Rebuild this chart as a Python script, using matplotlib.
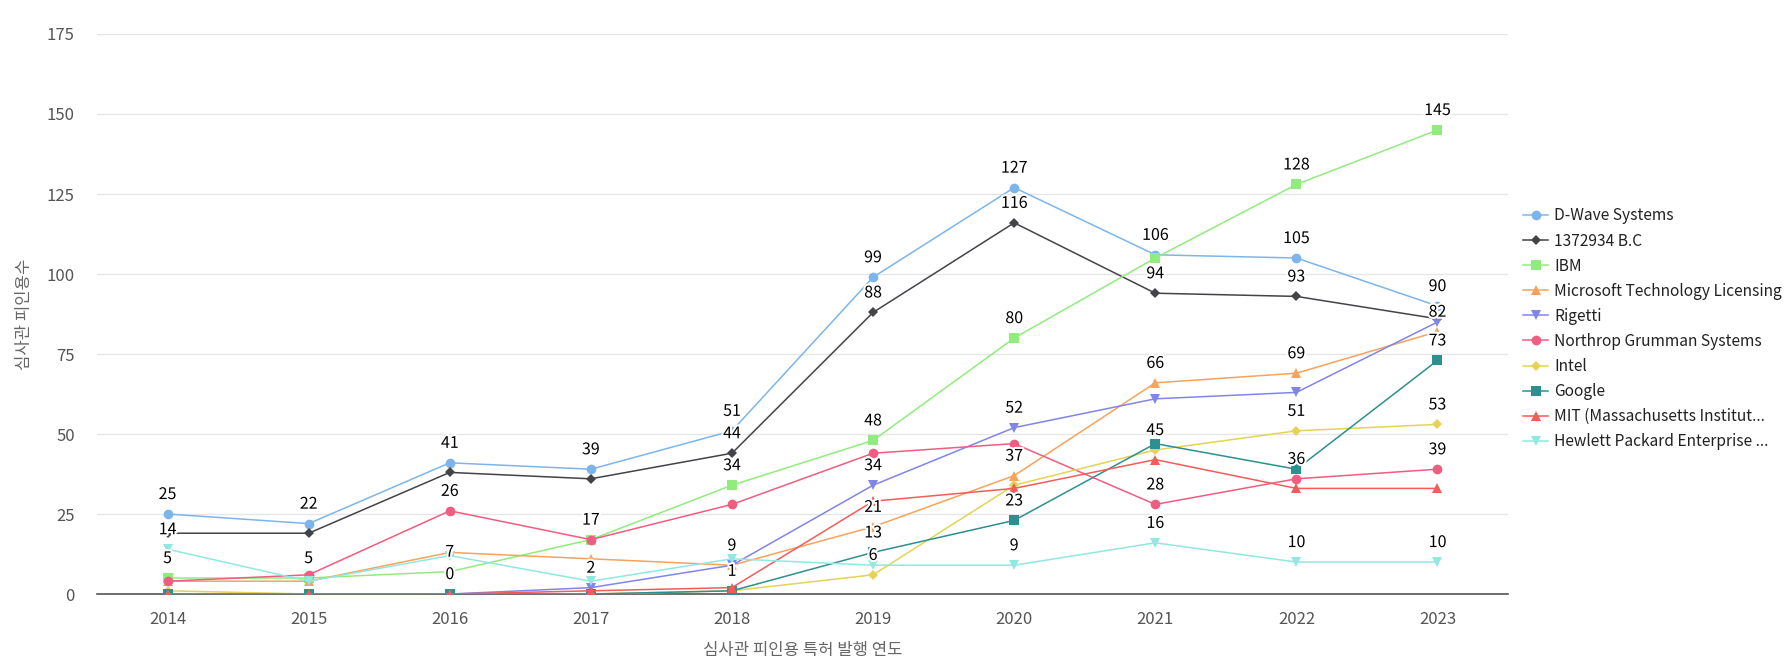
import matplotlib
matplotlib.use('Agg')
import matplotlib.pyplot as plt
import matplotlib.patheffects as pe

plt.rcParams['font.family'] = ['Noto Sans CJK KR', 'DejaVu Sans']

years = [2014, 2015, 2016, 2017, 2018, 2019, 2020, 2021, 2022, 2023]

series_names = [
    'D-Wave Systems',
    '1372934 B.C',
    'IBM',
    'Microsoft Technology Licensing',
    'Rigetti',
    'Northrop Grumman Systems',
    'Intel',
    'Google',
    'MIT (Massachusetts Institut...',
    'Hewlett Packard Enterprise ...',
]

dwave = [25, 22, 41, 39, 51, 99, 127, 106, 105, 90]
bc1372934 = [19, 19, 38, 36, 44, 88, 116, 94, 93, 86]
ibm = [5, 5, 7, 17, 34, 48, 80, 105, 128, 145]
microsoft = [4, 4, 13, 11, 9, 21, 37, 66, 69, 82]
rigetti = [0, 0, 0, 2, 9, 34, 52, 61, 63, 85]
northrop = [4, 6, 26, 17, 28, 44, 47, 28, 36, 39]
intel = [1, 0, 0, 0, 1, 6, 34, 45, 51, 53]
google = [0, 0, 0, 0, 1, 13, 23, 47, 39, 73]
mit = [0, 0, 0, 1, 2, 29, 33, 42, 33, 33]
hpe = [14, 4, 12, 4, 11, 9, 9, 16, 10, 10]

series_values = [dwave, bc1372934, ibm, microsoft, rigetti,
                 northrop, intel, google, mit, hpe]

colors = ['#7cb5ec', '#434348', '#90ed7d', '#f7a35c', '#8085e9',
          '#f15c80', '#e4d354', '#2b908f', '#f45b5b', '#91e8e1']
markers = ['o', 'D', 's', '^', 'v', 'o', 'D', 's', '^', 'v']
marker_sizes = [7, 4.8, 6.5, 7, 7, 7, 4.8, 6.5, 7, 7]

# which labels are visible (series index per year index); the rest overlap and are hidden
shown_labels = {
    0: [0, 9, 2],
    1: [0, 2],
    2: [0, 5, 2, 7],
    3: [0, 5, 4],
    4: [0, 1, 2, 4, 7],
    5: [0, 1, 2, 4, 3, 7, 6],
    6: [0, 1, 2, 4, 3, 7, 9],
    7: [0, 1, 3, 6, 5, 9],
    8: [2, 0, 1, 3, 6, 5, 9],
    9: [2, 0, 3, 7, 6, 5, 9],
}

fig = plt.figure(figsize=(17.87, 6.64), dpi=100)
ax = fig.add_axes([0.0543, 0.1054, 0.7896, 0.8434])

x = list(range(len(years)))
lines = []
for i, vals in enumerate(series_values):
    ln, = ax.plot(x, vals, color=colors[i], marker=markers[i], markersize=marker_sizes[i],
                  linewidth=1.1, markeredgewidth=0, label=series_names[i], zorder=3)
    lines.append(ln)

outline = [pe.withStroke(linewidth=3, foreground='white')]
for xi, idxs in shown_labels.items():
    for si in idxs:
        ax.annotate(str(series_values[si][xi]), (xi, series_values[si][xi]),
                    xytext=(0, 14), textcoords='offset points', ha='center', va='center',
                    fontsize=11.5, color='#000000', path_effects=outline, zorder=5)

ax.set_xlim(-0.5, len(years) - 0.5)
ax.set_ylim(0, 175)
ax.set_yticks(range(0, 176, 25))
ax.set_xticks(x)
ax.set_xticklabels([str(y) for y in years])
ax.grid(axis='y', color='#e6e6e6', linewidth=1)
ax.set_axisbelow(True)
for s in ['top', 'right', 'left']:
    ax.spines[s].set_visible(False)
ax.spines['bottom'].set_color('#555555')
ax.spines['bottom'].set_linewidth(1.2)
ax.tick_params(axis='both', length=0, labelsize=12, colors='#555555')
ax.tick_params(axis='x', pad=12)
ax.tick_params(axis='y', pad=16)

ax.set_xlabel('심사관 피인용 특허 발행 연도', fontsize=12, color='#666666', labelpad=10)
ax.set_ylabel('심사관 피인용수', fontsize=12, color='#666666', labelpad=10)

fig.legend(handles=lines, loc='upper left', bbox_to_anchor=(0.849, 0.697),
           frameon=False, fontsize=11.2, labelspacing=0.52, handlelength=1.6,
           handletextpad=0.4, borderaxespad=0, labelcolor='#222222')

fig.savefig('out.png', dpi=100)
